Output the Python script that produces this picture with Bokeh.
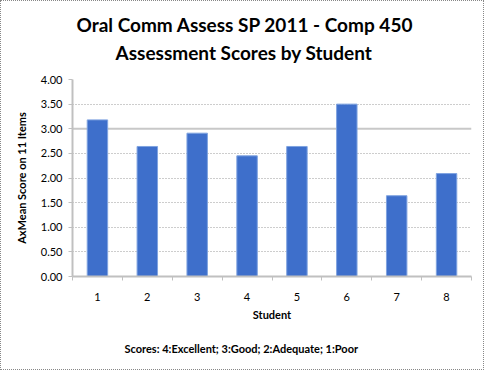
from bokeh.plotting import figure
from bokeh.models import FixedTicker, Title, Span, NumeralTickFormatter
from bokeh.embed import file_html
from bokeh.resources import INLINE

students = [1, 2, 3, 4, 5, 6, 7, 8]
scores = [3.18, 2.64, 2.91, 2.45, 2.64, 3.50, 1.64, 2.09]
y_ticks = [0.0, 0.5, 1.0, 1.5, 2.0, 2.5, 3.0, 3.5, 4.0]
title_lines = ["Oral Comm Assess SP 2011 - Comp 450", "Assessment Scores by Student"]

FONT = "Lato"

p = figure(width=484, height=370, output_backend="svg", toolbar_location=None,
           x_range=(0.5, 8.5), y_range=(0, 4),
           min_border_left=71, min_border_right=14, min_border_top=78, min_border_bottom=95)
p.styles = {"border": "1px dotted #888888"}
p.outline_line_color = None

p.vbar(x=students, top=scores, width=0.41, fill_color="#3e6fcb",
       line_color="#7fa3e0", line_width=1)

# gridlines
p.xgrid.grid_line_color = None
p.ygrid.ticker = FixedTicker(ticks=y_ticks)
p.ygrid.grid_line_color = "#9a9a9a"
p.ygrid.grid_line_dash = "1 2"
p.ygrid.grid_line_width = 1
p.add_layout(Span(location=y_ticks[6], dimension="width", line_color="#c8c8c8",
                  line_width=2, level="underlay"))

# axes
p.xaxis.ticker = FixedTicker(ticks=students, minor_ticks=[s + 0.5 for s in [0] + students])
p.xaxis.major_tick_out = 0
p.xaxis.major_tick_in = 0
p.xaxis.minor_tick_out = 4
p.xaxis.minor_tick_in = 0
p.yaxis.ticker = FixedTicker(ticks=y_ticks)
p.yaxis.formatter = NumeralTickFormatter(format="0.00")
p.yaxis.major_tick_out = 4
p.yaxis.major_tick_in = 0
for ax in (p.xaxis, p.yaxis):
    ax.axis_line_color = "#c0c0c0"
    ax.axis_line_width = 2
    ax.major_tick_line_color = "#c0c0c0"
    ax.minor_tick_line_color = "#c0c0c0"
    ax.major_label_text_font = FONT
    ax.major_label_text_font_size = "11px"
    ax.major_label_text_color = "#000000"
    ax.axis_label_text_font = FONT
    ax.axis_label_text_font_size = "11px"
    ax.axis_label_text_font_style = "bold"
    ax.axis_label_text_color = "#000000"
p.yaxis.minor_tick_line_color = None
p.xaxis.major_label_standoff = 12
p.yaxis.major_label_standoff = 6
p.xaxis.axis_label = "Student"
p.yaxis.axis_label = "AxMean Score on 11 Items"
p.xaxis.axis_label_standoff = 4
p.yaxis.axis_label_standoff = 10

# titles: a thin blank spacer next to the frame, then the two title lines
spacer = Title(text=" ", text_font_size="1px", standoff=11)
t2 = Title(text=title_lines[1], align="left", offset=43, standoff=3,
           text_font=FONT, text_font_size="19px", text_font_style="bold", text_color="#000000")
t1 = Title(text=title_lines[0], align="left", offset=4, standoff=3,
           text_font=FONT, text_font_size="19px", text_font_style="bold", text_color="#000000")
p.add_layout(spacer, "above")
p.add_layout(t2, "above")
p.add_layout(t1, "above")

foot = Title(text="Scores: 4:Excellent; 3:Good; 2:Adequate; 1:Poor", align="left", offset=52,
             text_font=FONT, text_font_size="11px", text_font_style="bold", text_color="#000000",
             standoff=32)
p.add_layout(foot, "below")

open("out.html", "w").write(file_html(p, INLINE))
